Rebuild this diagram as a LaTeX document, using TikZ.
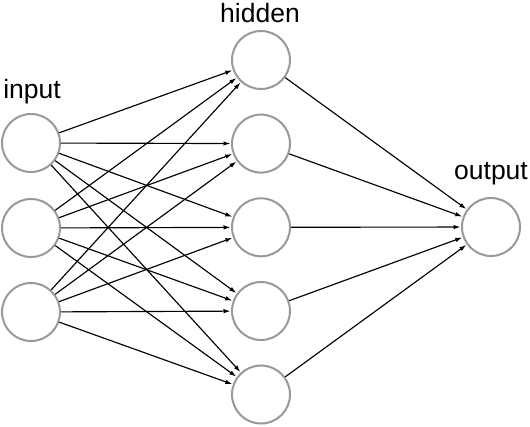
\documentclass[tikz,border=0pt]{standalone}
\usepackage{fontspec}
\setmainfont{Liberation Sans}
\usetikzlibrary{arrows.meta}
\begin{document}
\begin{tikzpicture}[x=1pt,y=-1pt,
  neuron/.style={circle,draw=black!40,line width=2pt,minimum size=58pt,inner sep=0pt,fill=white},
  lbl/.style={font=\fontsize{26.5}{30}\selectfont,inner sep=0pt,anchor=base},
  conn/.style={line width=1.15pt,-{Latex[length=7pt,width=4.5pt]},shorten >=0.5pt}]
\useasboundingbox (0,0) rectangle (530,426);
\node[neuron] (i1) at (31,143) {};
\node[neuron] (i2) at (31,228) {};
\node[neuron] (i3) at (31,312) {};
\node[neuron] (h1) at (261,60) {};
\node[neuron] (h2) at (261,143.6) {};
\node[neuron] (h3) at (261,227.3) {};
\node[neuron] (h4) at (261,311) {};
\node[neuron] (h5) at (261,394.5) {};
\node[neuron] (o) at (491,227) {};
\node[lbl] (li) at (32,98) {input};
\node[lbl] (lh) at (260,22) {hidden};
\node[lbl] (lo) at (491,179) {output};
\foreach \i in {1,2,3}{
  \foreach \h in {1,...,5}{
    \draw[conn] (i\i) -- (h\h);
  }
}
\foreach \h in {1,...,5}{
  \draw[conn] (h\h) -- (o);
}
\end{tikzpicture}
\end{document}
